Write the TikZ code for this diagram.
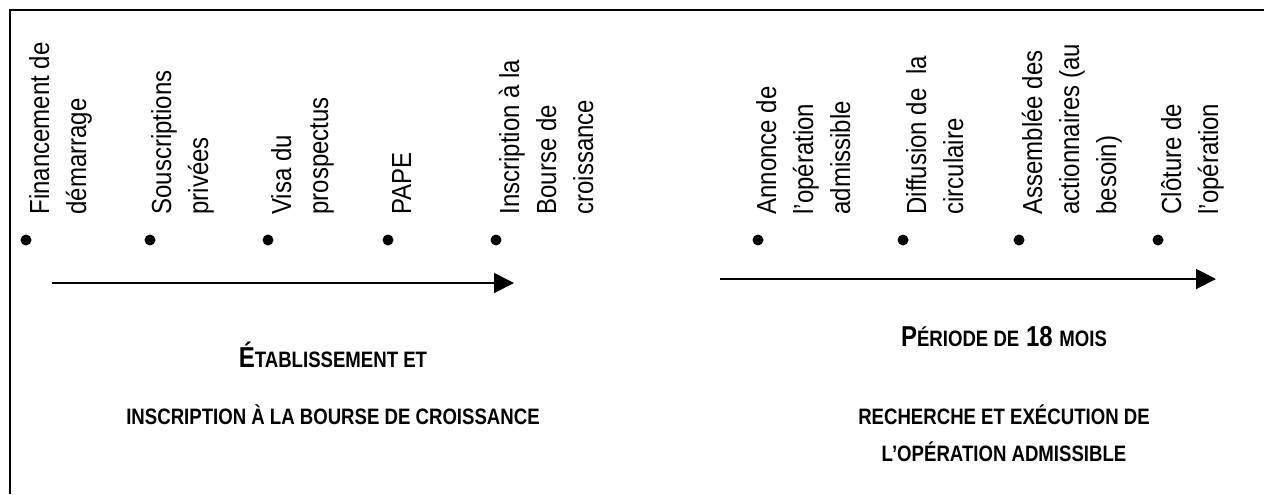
\documentclass[tikz,border=0pt]{standalone}
\usepackage{fontspec}
\setmainfont{Liberation Sans}
\usetikzlibrary{arrows.meta}
\newcommand\smcap[1]{{\fontsize{9.3pt}{11pt}\selectfont #1}}
\newcommand\tallrot[1]{\scalebox{1}[1.15]{\begin{tabular}[t]{@{}l@{}}#1\end{tabular}}}
\newcommand\tallcap[1]{\scalebox{1}[1.2]{#1}}
\begin{document}
\begin{tikzpicture}[x=0.5pt,y=-0.5pt,
  frame/.style={line width=1pt},
  dot/.style={circle,fill=black,inner sep=0pt,minimum size=5.5pt},
  lbl/.style={rotate=90,anchor=base west,inner sep=0pt,
    font=\fontsize{12pt}{16.1pt}\selectfont},
  timeline/.style={line width=1pt,-{Triangle[length=10pt,width=10pt]}},
  caption/.style={anchor=base,inner sep=0pt,font=\bfseries\fontsize{12pt}{14pt}\selectfont}]
\useasboundingbox (0,0) rectangle (1264,494);
% frame (top and left edges)
\coordinate (fTR) at (1264,10);
\coordinate (fTL) at (10,10);
\coordinate (fBL) at (10,494);
\draw[frame] (fTR) -- (fTL) -- (fBL);
% dots
\node[dot] (d1) at (26,240) {};
\node[dot] (d2) at (150,240) {};
\node[dot] (d3) at (268,240) {};
\node[dot] (d4) at (388,240) {};
\node[dot] (d5) at (496,240) {};
\node[dot] (d6) at (758,240) {};
\node[dot] (d7) at (903,240) {};
\node[dot] (d8) at (1019,240) {};
\node[dot] (d9) at (1158,240) {};
% labels
\node[lbl] (t1) at (49,215) {\tallrot{Financement de\\démarrage}};
\node[lbl] (t2) at (171,215) {\tallrot{Souscriptions\\privées}};
\node[lbl] (t3) at (291,215) {\tallrot{Visa du\\prospectus}};
\node[lbl] (t4) at (411,215) {\tallrot{PAPE}};
\node[lbl] (t5) at (519,215) {\tallrot{Inscription à la\\Bourse de\\croissance}};
\node[lbl] (t6) at (776,215) {\tallrot{Annonce de\\l’opération\\admissible}};
\node[lbl] (t7) at (926,215) {\tallrot{Diffusion de~~la\\circulaire}};
\node[lbl] (t8) at (1042,215) {\tallrot{Assemblée des\\actionnaires (au\\besoin)}};
\node[lbl] (t9) at (1181,215) {\tallrot{Clôture de\\l’opération}};
% timelines
\coordinate (a1s) at (52,283);
\coordinate (a1e) at (514,283);
\coordinate (a2s) at (720,279);
\coordinate (a2e) at (1216,279);
\draw[timeline] (a1s) -- (a1e);
\draw[timeline] (a2s) -- (a2e);
% captions
\node[caption] (c1) at (333,367) {\tallcap{É\smcap{TABLISSEMENT ET}}};
\node[caption] (c2) at (333,424) {\tallcap{\smcap{INSCRIPTION À LA BOURSE DE CROISSANCE}}};
\node[caption] (r1) at (1004,346) {\tallcap{P\smcap{ÉRIODE DE} 18 \smcap{MOIS}}};
\node[caption] (r2) at (1004,424) {\tallcap{\smcap{RECHERCHE ET EXÉCUTION DE}}};
\node[caption] (r3) at (1004,461) {\tallcap{\smcap{L’OPÉRATION ADMISSIBLE}}};
\end{tikzpicture}
\end{document}
